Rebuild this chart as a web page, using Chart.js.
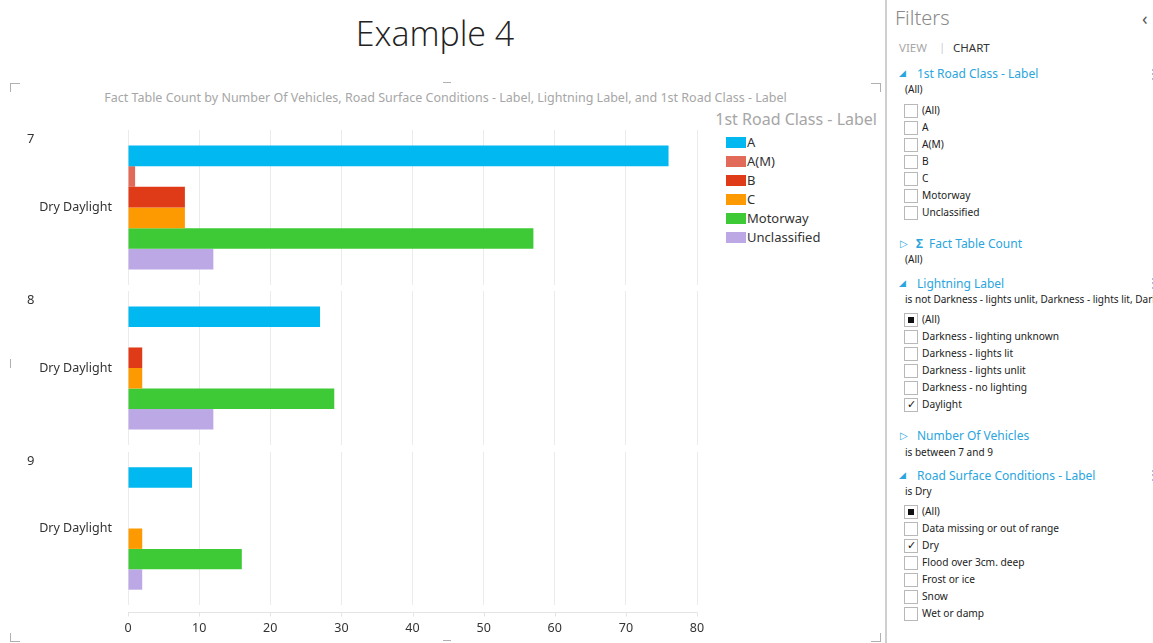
<!DOCTYPE html>
<html>
<head>
<meta charset="utf-8">
<script src="https://cdn.jsdelivr.net/npm/chart.js@4.4.1/dist/chart.umd.min.js"></script>
<style>
    body { margin: 0; width: 1153px; height: 643px; overflow: hidden; background: #fff; font-family: "Noto Sans", "Open Sans", sans-serif; color: #333; position: relative; }
    .abs { position: absolute; white-space: nowrap; }
    canvas { position: absolute; left: 0; }
    #title { left: 0; width: 870px; top: 10px; text-align: center; font: 300 34px "Open Sans", "Lato", sans-serif; color: #222; }
    #subtitle { left: 0; width: 891px; top: 89px; text-align: center; font-size: 12.5px; color: #a6a6a6; }
    #legend-title { right: 276px; top: 108px; font-size: 16px; color: #a6a6a6; }
    .legend-item { left: 726px; font-size: 13px; height: 19px; line-height: 19px; }
    .legend-item span { display: inline-block; width: 20px; height: 11px; vertical-align: -1px; margin-right: 1px; }
    .panel-label { left: 27px; font-size: 13px; }
    .corner { position: absolute; border-color: #b0b0b0; border-style: solid; border-width: 0; width: 9px; height: 8px; }
    #filters { position: absolute; left: 885px; top: 0; width: 268px; height: 643px; border-left: 2px solid #cfcfcf; overflow: hidden; }
    #filters .abs { font-size: 10px; color: #222; }
    .blue { color: #2aa5de !important; }
    .cb { position: absolute; left: 17px; width: 12px; height: 12px; border: 1px solid #b8b8b8; background: #fff; }
    .cb.all::after { content: ""; position: absolute; left: 3px; top: 3px; width: 6px; height: 6px; background: #111; }
    .cb.on::after { content: "\2713"; position: absolute; left: 2px; top: -3px; font-size: 11px; color: #111; }
</style>
</head>
<body>
<div id="title" class="abs">Example 4</div>
<div id="subtitle" class="abs">Fact Table Count by Number Of Vehicles, Road Surface Conditions - Label, Lightning Label, and 1st Road Class - Label</div>
<div id="legend-title" class="abs">1st Road Class - Label</div>

<div class="corner" style="left:10px;top:83px;border-top-width:1px;border-left-width:1px;"></div>
<div class="corner" style="left:871px;top:83px;border-top-width:1px;border-right-width:1px;"></div>
<div class="corner" style="left:10px;top:633px;border-bottom-width:1px;border-left-width:1px;"></div>
<div class="corner" style="left:871px;top:633px;border-bottom-width:1px;border-right-width:1px;"></div>
<div class="abs" style="left:443px;top:82px;width:8px;height:1px;background:#b0b0b0;"></div>
<div class="abs" style="left:443px;top:640px;width:8px;height:1px;background:#b0b0b0;"></div>
<div class="abs" style="left:10px;top:359px;width:1px;height:9px;background:#b0b0b0;"></div>

<canvas id="panel0" width="710" height="155" style="top:130px"></canvas>
<canvas id="panel1" width="710" height="154" style="top:291px"></canvas>
<canvas id="panel2" width="710" height="190" style="top:452px"></canvas>

<div id="filters"></div>

<script>
// outer grouping (Number Of Vehicles) and inner category
const vehicleCounts = ["7", "8", "9"];
const categories = ["Dry Daylight"];

// series: 1st Road Class - Label, one value per vehicle count panel
const roadClasses = ["A", "A(M)", "B", "C", "Motorway", "Unclassified"];
const classColors = ["#01b8f0", "#e16b58", "#e03b18", "#fe9a01", "#3dca36", "#bca8e5"];
const countA = [76, 27, 9];
const countAM = [1, null, null];
const countB = [8, 2, null];
const countC = [8, 2, 2];
const countMotorway = [57, 29, 16];
const countUnclassified = [12, 12, 2];
const allCounts = [countA, countAM, countB, countC, countMotorway, countUnclassified];

// x axis
const xMin = 0, xMax = 80, xStep = 10;

const panelTops = [130, 291, 452];
const labelFont = { family: "'Noto Sans', 'Open Sans', sans-serif", size: 12.5 };

// axis line with small ticks, a few px under the last panel
const axisLinePlugin = {
    id: "axisLine",
    afterDraw(chart) {
        const { ctx, chartArea, scales } = chart;
        const y0 = chartArea.bottom + 7.5;
        ctx.save();
        ctx.strokeStyle = "#e4e4e4";
        ctx.lineWidth = 1;
        ctx.beginPath();
        ctx.moveTo(chartArea.left, y0);
        ctx.lineTo(chartArea.right, y0);
        scales.x.ticks.forEach(t => {
            const x = Math.round(scales.x.getPixelForValue(t.value)) + 0.5;
            ctx.moveTo(x, y0);
            ctx.lineTo(x, y0 + 4);
        });
        ctx.stroke();
        ctx.restore();
    }
};

function makePanel(p) {
    const last = p === vehicleCounts.length - 1;
    const datasets = roadClasses.map((name, i) => ({
        label: name,
        data: [allCounts[i][p]],
        backgroundColor: classColors[i],
        barPercentage: 1,
        categoryPercentage: 0.8
    }));

    new Chart(document.getElementById("panel" + p), {
        type: "bar",
        data: { labels: categories, datasets: datasets },
        options: {
            indexAxis: "y",
            responsive: false,
            animation: false,
            layout: { padding: { left: 0, right: 13, top: 0, bottom: 0 } },
            plugins: { legend: { display: false }, tooltip: { enabled: false } },
            scales: {
                x: {
                    min: xMin,
                    max: xMax,
                    ticks: { display: last, stepSize: xStep, padding: 16, color: "#333", font: labelFont },
                    grid: { color: "#ebebeb", drawTicks: false },
                    border: { display: false },
                    afterFit: s => {
                        if (last) s.height = 37;
                        s.paddingLeft = 0;
                        s.paddingRight = 0;
                    }
                },
                y: {
                    ticks: { padding: 16, color: "#333", font: labelFont },
                    grid: { display: false, drawTicks: false },
                    border: { display: false },
                    afterFit: s => {
                        s.width = 128;
                        s.paddingTop = 0;
                        s.paddingBottom = 0;
                    }
                }
            }
        },
        plugins: last ? [axisLinePlugin] : []
    });

    const lbl = document.createElement("div");
    lbl.className = "abs panel-label";
    lbl.style.top = (panelTops[p] - 1) + "px";
    lbl.textContent = vehicleCounts[p];
    document.body.appendChild(lbl);
}

vehicleCounts.forEach((v, p) => makePanel(p));

// legend
roadClasses.forEach((name, i) => {
    const d = document.createElement("div");
    d.className = "abs legend-item";
    d.style.top = (133 + i * 19) + "px";
    d.innerHTML = `<span style="background:${classColors[i]}"></span>${name}`;
    document.body.appendChild(d);
});

// filters pane
const roadClassFilter = ["(All)", "A", "A(M)", "B", "C", "Motorway", "Unclassified"];
const lightingFilter = ["(All)", "Darkness - lighting unknown", "Darkness - lights lit", "Darkness - lights unlit", "Darkness - no lighting", "Daylight"];
const lightingState = ["all", "", "", "", "", "on"];
const surfaceFilter = ["(All)", "Data missing or out of range", "Dry", "Flood over 3cm. deep", "Frost or ice", "Snow", "Wet or damp"];
const surfaceState = ["all", "", "on", "", "", "", ""];

const pane = document.getElementById("filters");
function txt(x, y, s, cls, style) {
    const d = document.createElement("div");
    d.className = "abs " + (cls || "");
    d.style.left = x + "px";
    d.style.top = y + "px";
    if (style) d.style.cssText += style;
    d.textContent = s;
    pane.appendChild(d);
    return d;
}
function list(items, states, y0) {
    items.forEach((s, i) => {
        const y = y0 + i * 17;
        const c = document.createElement("div");
        c.className = "cb " + (states[i] || "");
        c.style.top = (y - 7) + "px";
        pane.appendChild(c);
        txt(35, y - 8, s, "", "font-size:10.2px;");
    });
}

txt(8, 4, "Filters", "", "font-size:20px;color:#8a8a8a;font-weight:300;");
txt(255, 6, "\u2039", "", "font-size:18px;color:#555;");
txt(12, 40, "VIEW", "", "font-size:11.5px;color:#a8a8a8;");
txt(52, 39, "|", "", "font-size:11.5px;color:#ccc;");
txt(66, 40, "CHART", "", "font-size:11.5px;color:#333;");

txt(12, 66, "\u25E2", "blue", "font-size:9px;");
txt(30, 65, "1st Road Class - Label", "blue", "font-size:12px;");
txt(259, 64, "\u22EE", "blue", "font-size:14px;");
txt(18, 82, "(All)");
list(roadClassFilter, [], 111);

txt(13, 236, "\u25B7", "blue", "font-size:10px;");
txt(29, 235, "\u03A3", "blue", "font-size:12px;font-weight:bold;");
txt(42, 235, "Fact Table Count", "blue", "font-size:12px;");
txt(18, 252, "(All)");

txt(12, 276, "\u25E2", "blue", "font-size:9px;");
txt(30, 275, "Lightning Label", "blue", "font-size:12px;");
txt(259, 273, "\u22EE", "blue", "font-size:14px;");
txt(18, 292, "is not Darkness - lights unlit, Darkness - lights lit, Darkness - lighting unknown");
list(lightingFilter, lightingState, 320);

txt(13, 428, "\u25B7", "blue", "font-size:10px;");
txt(30, 427, "Number Of Vehicles", "blue", "font-size:12px;");
txt(18, 445, "is between 7 and 9");

txt(12, 468, "\u25E2", "blue", "font-size:9px;");
txt(30, 467, "Road Surface Conditions - Label", "blue", "font-size:12px;");
txt(259, 465, "\u22EE", "blue", "font-size:14px;");
txt(18, 484, "is Dry");
list(surfaceFilter, surfaceState, 512);
</script>
</body>
</html>
